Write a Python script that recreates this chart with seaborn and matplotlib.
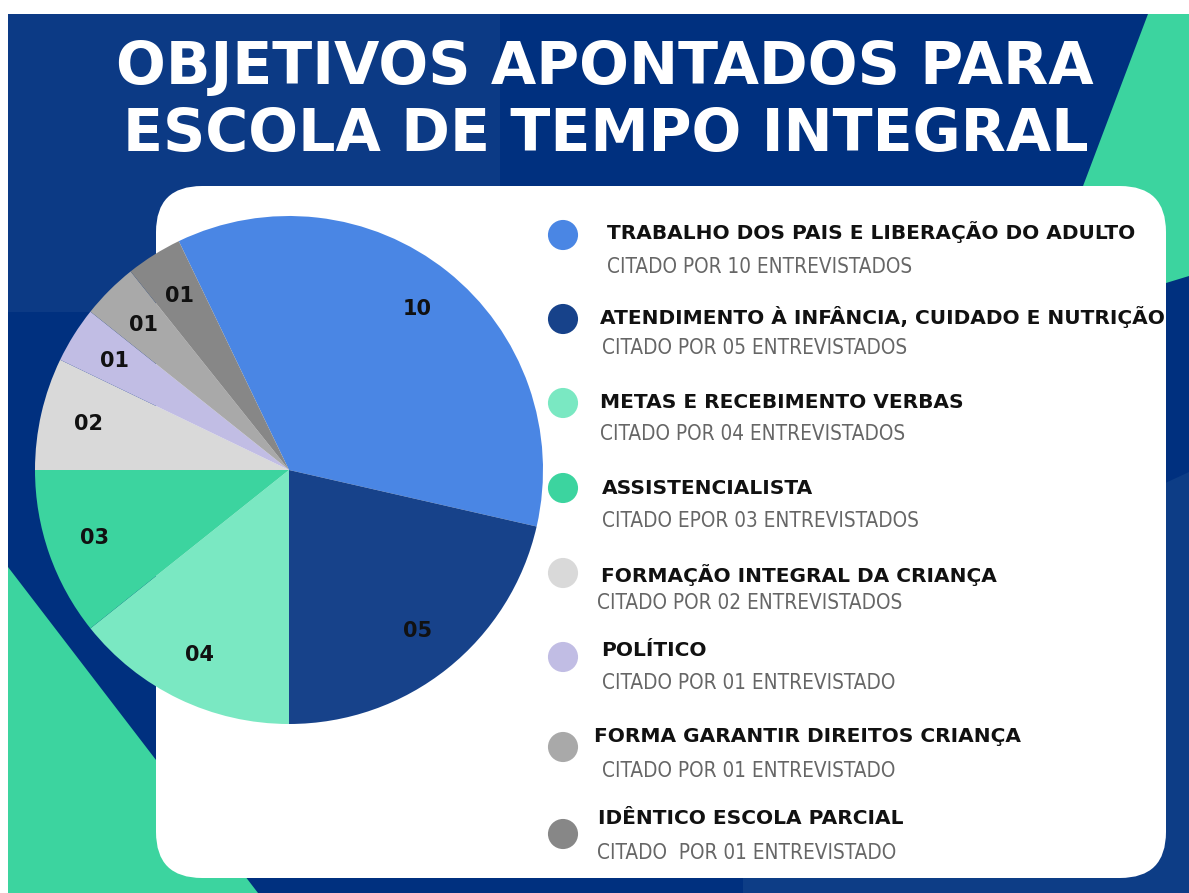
import matplotlib
matplotlib.use("Agg")
import matplotlib.pyplot as plt
import seaborn as sns
from matplotlib.patches import Polygon, Rectangle, FancyBboxPatch
from matplotlib import font_manager
from matplotlib.font_manager import FontProperties

# dados do gráfico
categorias = ["TRABALHO DOS PAIS E LIBERAÇÃO DO ADULTO",
              "ATENDIMENTO À INFÂNCIA, CUIDADO E NUTRIÇÃO",
              "METAS E RECEBIMENTO VERBAS",
              "ASSISTENCIALISTA",
              "FORMAÇÃO INTEGRAL DA CRIANÇA",
              "POLÍTICO",
              "FORMA GARANTIR DIREITOS CRIANÇA",
              "IDÊNTICO ESCOLA PARCIAL"]
citacoes = ["CITADO POR 10 ENTREVISTADOS",
            "CITADO POR 05 ENTREVISTADOS",
            "CITADO POR 04 ENTREVISTADOS",
            "CITADO EPOR 03 ENTREVISTADOS",
            "CITADO POR 02 ENTREVISTADOS",
            "CITADO POR 01 ENTREVISTADO",
            "CITADO POR 01 ENTREVISTADO",
            "CITADO  POR 01 ENTREVISTADO"]
rotulos = ["10", "05", "04", "03", "02", "01", "01", "01"]
# tamanho das fatias como desenhadas no original (a fatia "05" ocupa 6 partes)
fatias = [10, 6, 4, 3, 2, 1, 1, 1]
cores = ["#4a86e4", "#17428a", "#7ae8c2", "#3cd49f",
         "#d9d9d9", "#c1bde4", "#a9a9a9", "#878787"]

# posicoes da legenda (pixels)
leg_x = [607, 600, 600, 602, 601, 601, 594, 598]
leg_y = [232, 317, 402, 488, 575, 651, 737, 819]
sub_x = [607, 602, 600, 602, 597, 602, 602, 597]
sub_y = [267, 348, 434, 521, 603, 683, 771, 853]
dot_y = [235, 319, 403, 488, 573, 657, 747, 834]

W, H = 1189, 893
sns.set_theme(style="white")
plt.rcParams['font.family'] = ['DejaVu Sans']

# fonte estreita para as linhas cinza, se houver
cands = [f for f in font_manager.fontManager.ttflist
         if f.style == 'normal' and f.weight in (400, 'normal', 'regular')
         and (f.stretch in ('condensed', 'semi-condensed')
              or 'Narrow' in f.name or 'Condensed' in f.name)]
prop_sub = FontProperties(fname=cands[0].fname) if cands else FontProperties(family='Roboto')

fig = plt.figure(figsize=(W / 100, H / 100), dpi=100, facecolor='white')
renderer = fig.canvas.get_renderer()


def tamanho_para(texto, largura, prop, base=20):
    t = fig.text(0, 0, texto, fontproperties=prop, fontsize=base)
    w = t.get_window_extent(renderer).width
    t.remove()
    return base * largura / w


prop_titulo = FontProperties(family='DejaVu Sans', weight='bold')
prop_leg = FontProperties(family='DejaVu Sans', weight='bold')
fs_titulo = tamanho_para("OBJETIVOS APONTADOS PARA", 975, prop_titulo)
fs_leg = tamanho_para(categorias[0], 525, prop_leg)
fs_sub = tamanho_para(citacoes[0], 304, prop_sub)

# fundo
bg = fig.add_axes([0, 0, 1, 1])
bg.set_xlim(0, W)
bg.set_ylim(H, 0)
bg.axis('off')
bg.add_patch(Rectangle((8, 14), W - 8, H - 14, color='#00307f', lw=0))
bg.add_patch(Rectangle((8, 14), 492, 298, color='#0c3a85', lw=0))
bg.add_patch(Polygon([(743, H), (743, 640), (1000, 560), (1189, 472), (W, H)], color='#0d3d86', lw=0))
bg.add_patch(Polygon([(1148, 14), (W, 14), (W, 276), (1166, 283), (1040, 300)], color='#3cd49f', lw=0))
bg.add_patch(Polygon([(8, 567), (258, H), (8, H)], color='#3cd49f', lw=0))
bg.add_patch(FancyBboxPatch((156 + 46, 186 + 46), 1166 - 156 - 92, 878 - 186 - 92,
                            boxstyle="round,pad=46", fc='white', ec='none'))

# pizza
cx, cy, r = 289, 470, 254
ax = fig.add_axes([(cx - r) / W, (H - cy - r) / H, 2 * r / W, 2 * r / H])
wedges, texts = ax.pie(fatias, labels=rotulos, colors=sns.color_palette(cores),
                       startangle=115.714, counterclock=False, labeldistance=0.81,
                       wedgeprops=dict(linewidth=0),
                       textprops=dict(fontsize=15, fontweight='bold', color='#111111'))
for t in texts:
    t.set_ha('center')
    t.set_va('center')
ax.set_xlim(-1, 1)
ax.set_ylim(-1, 1)
ax.axis('off')

# titulo e legenda
fg = fig.add_axes([0, 0, 1, 1])
fg.patch.set_alpha(0)

sns.scatterplot(x=[563] * len(categorias), y=dot_y, hue=categorias, hue_order=categorias,
                palette=cores, s=470, linewidth=0, legend=False, ax=fg)
fg.set_xlim(0, W)
fg.set_ylim(H, 0)
fg.axis('off')

fg.text(605, 68, "OBJETIVOS APONTADOS PARA", ha='center', va='center',
        fontproperties=prop_titulo, fontsize=fs_titulo, color='white')
fg.text(606, 135, "ESCOLA DE TEMPO INTEGRAL", ha='center', va='center',
        fontproperties=prop_titulo, fontsize=fs_titulo, color='white')

for i in range(len(categorias)):
    fg.text(leg_x[i], leg_y[i], categorias[i], ha='left', va='center',
            fontproperties=prop_leg, fontsize=fs_leg, color='#111111')
    fg.text(sub_x[i], sub_y[i], citacoes[i], ha='left', va='center',
            fontproperties=prop_sub, fontsize=fs_sub, color='#666666')

fig.savefig('out.png', dpi=100, facecolor='white')
